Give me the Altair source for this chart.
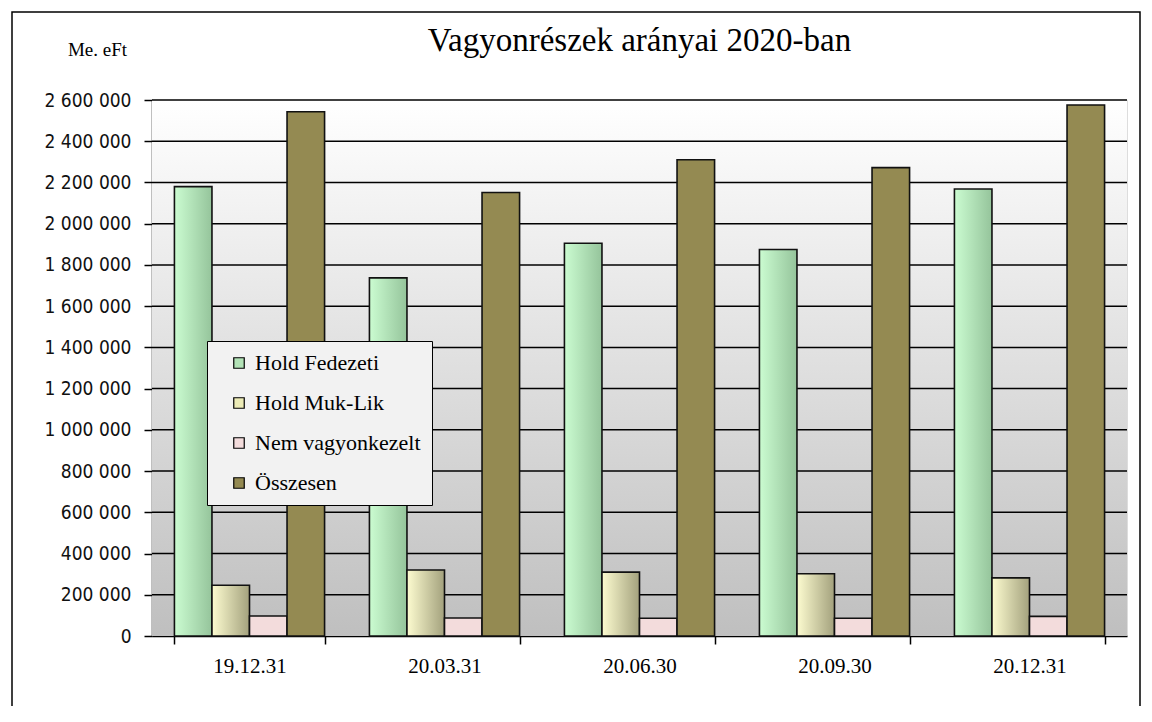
import altair as alt
import pandas as pd

# ---- data ----
dates = ["19.12.31", "20.03.31", "20.06.30", "20.09.30", "20.12.31"]
series = ["Hold Fedezeti", "Hold Muk-Lik", "Nem vagyonkezelt", "Összesen"]
hold_fedezeti = [2180000, 1737000, 1905000, 1875000, 2168000]
hold_muk_lik = [246000, 320000, 310000, 302000, 282000]
nem_vagyonkezelt = [97000, 87000, 86000, 86000, 95000]
osszesen = [2543000, 2151000, 2310000, 2272000, 2576000]
y_ticks = [0, 200000, 400000, 600000, 800000, 1000000, 1200000, 1400000,
           1600000, 1800000, 2000000, 2200000, 2400000, 2600000]

W, H = 975, 536
YMAX = 2600000

rows = []
for name, vals in zip(series, [hold_fedezeti, hold_muk_lik, nem_vagyonkezelt, osszesen]):
    for d, v in zip(dates, vals):
        rows.append({"datum": d, "sor": name, "ertek": v})
df = pd.DataFrame(rows)
grid_df = pd.DataFrame({"ertek": y_ticks[1:]})
bg_df = pd.DataFrame({"ertek": [YMAX], "a": [0]})

xscale = alt.Scale(domain=dates, paddingInner=0.23, paddingOuter=0.115)
xoff = alt.XOffset("sor:N", scale=alt.Scale(domain=series, paddingInner=0, paddingOuter=0))
yscale = alt.Scale(domain=[0, YMAX], nice=False, zero=True)
color_scale = alt.Scale(domain=series, range=["#b2e2b6", "#ecebb6", "#f3dcdc", "#948a52"])

x_enc = alt.X("datum:N", scale=xscale, sort=dates, title=None,
              axis=alt.Axis(labelFont="Liberation Serif", labelFontSize=21, labelColor="#000",
                            labelAngle=0, labelPadding=11, tickBand="extent", tickSize=8,
                            tickColor="#000", tickWidth=1.5, domainColor="#000", domainWidth=1.5,
                            grid=False))
y_axis = alt.Axis(values=y_ticks, grid=False, tickSize=8, tickColor="#000", tickWidth=1.5,
                  domainColor="#000", domainWidth=1.5,
                  labelFont="DejaVu Sans Condensed, DejaVu Sans", labelFontSize=19,
                  labelColor="#111", labelPadding=13,
                  labelExpr="replace(format(datum.value, ','), /,/g, ' ')",
                  title="Me. eFt", titleAngle=0, titleX=-55, titleY=-51,
                  titleAlign="center", titleBaseline="middle",
                  titleFont="Liberation Serif", titleFontSize=19,
                  titleFontWeight="normal", titleColor="#000")
y_enc = alt.Y("ertek:Q", scale=yscale, axis=y_axis)

# plot-area background gradient
bg = alt.Chart(bg_df).mark_rect(
    fill=alt.LinearGradient(gradient="linear",
                            stops=[alt.GradientStop(offset=0, color="#ffffff"),
                                   alt.GradientStop(offset=1, color="#bfbfbf")],
                            x1=0, x2=0, y1=0, y2=1)
).encode(x=alt.value(0), x2=alt.value(W), y=y_enc, y2="a:Q")

grid = alt.Chart(grid_df).mark_rule(color="#000", strokeWidth=1.5).encode(y=y_enc)

def bar_layer(name, fill=None):
    base = alt.Chart(df).transform_filter(alt.datum.sor == name)
    if fill is not None:
        m = base.mark_bar(fill=fill, stroke="#111", strokeWidth=1.6, cornerRadius=0)
        return m.encode(x=x_enc, xOffset=xoff, y=y_enc)
    m = base.mark_bar(stroke="#111", strokeWidth=1.6, cornerRadius=0, opacity=1)
    return m.encode(x=x_enc, xOffset=xoff, y=y_enc,
                    color=alt.Color("sor:N", scale=color_scale, title=None,
                                    legend=alt.Legend(orient="none", legendX=55, legendY=241,
                                                      symbolType="square", symbolSize=110,
                                                      symbolStrokeColor="#000", symbolStrokeWidth=1.2,
                                                      symbolOffset=10,
                                                      labelFont="Liberation Serif", labelFontSize=22,
                                                      labelColor="#000", labelOffset=5,
                                                      rowPadding=18, padding=11,
                                                      fillColor="#f2f2f2", strokeColor="#000",
                                                      labelLimit=400)))

hf = bar_layer("Hold Fedezeti", alt.LinearGradient(
    gradient="linear", x1=0, x2=1, y1=0, y2=0,
    stops=[alt.GradientStop(offset=0, color="#cbfcd1"),
           alt.GradientStop(offset=1, color="#95c49b")]))
ml = bar_layer("Hold Muk-Lik", alt.LinearGradient(
    gradient="linear", x1=0, x2=1, y1=0, y2=0,
    stops=[alt.GradientStop(offset=0, color="#fdfcd0"),
           alt.GradientStop(offset=1, color="#a3a17d")]))
nem = bar_layer("Nem vagyonkezelt")
ossz = bar_layer("Összesen")

frame = alt.Chart(pd.DataFrame({"a": [0]})).mark_rect(
    fill=None, stroke="#000", strokeWidth=1.5, clip=False
).encode(x=alt.value(-140), x2=alt.value(988), y=alt.value(-88), y2=alt.value(700))

chart = alt.layer(bg, grid, hf, ml, nem, ossz, frame).properties(
    width=W, height=H,
    title=alt.TitleParams("Vagyonrészek arányai 2020-ban", font="Liberation Serif",
                          fontSize=33, fontWeight="normal", color="#000",
                          anchor="middle", offset=-47),
    autosize=alt.AutoSizeParams(type="none"),
    padding={"left": 144, "top": 92, "right": 17, "bottom": 70},
).configure_view(stroke="#a0a0a0", strokeWidth=1).configure(background="#ffffff")

chart.save("out.html", embed_options={"renderer": "svg", "actions": False})
